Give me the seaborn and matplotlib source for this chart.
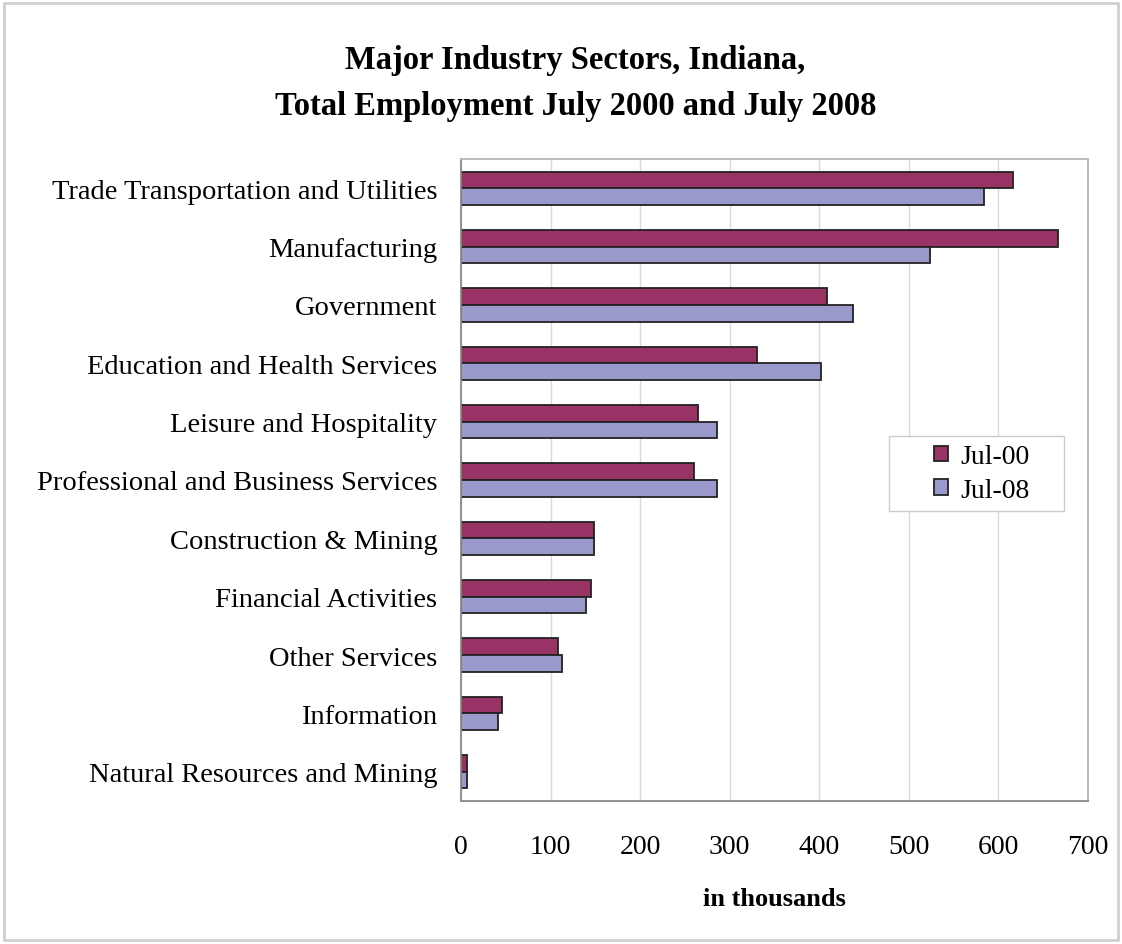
import numpy as np
import pandas as pd
import matplotlib
matplotlib.use("Agg")
import matplotlib.pyplot as plt
from matplotlib.patches import Rectangle
from matplotlib.ticker import FixedLocator
import seaborn as sns

categories = [
    "Trade Transportation and Utilities",
    "Manufacturing",
    "Government",
    "Education and Health Services",
    "Leisure and Hospitality",
    "Professional and Business Services",
    "Construction & Mining",
    "Financial Activities",
    "Other Services",
    "Information",
    "Natural Resources and Mining",
]
jul00 = [616, 666, 409, 330, 265, 260, 149, 145, 108, 46, 7]
jul08 = [584, 524, 438, 402, 286, 286, 149, 140, 113, 41, 7]
series_names = ["Jul-00", "Jul-08"]
x_ticks = [0, 100, 200, 300, 400, 500, 600, 700]

df = pd.DataFrame({
    "sector": categories * 2,
    "value": jul00 + jul08,
    "period": [series_names[0]] * len(categories) + [series_names[1]] * len(categories),
})

sns.set_theme(style="white")
plt.rcParams["font.family"] = ["Liberation Serif", "DejaVu Serif"]
plt.rcParams["text.color"] = "black"
plt.rcParams["xtick.color"] = "black"
plt.rcParams["ytick.color"] = "black"
plt.rcParams["axes.labelcolor"] = "black"

fig = plt.figure(figsize=(11.22, 9.45), dpi=100)
ax = fig.add_axes([461 / 1122, 1 - 802 / 945, (1088 - 461) / 1122, (802 - 160) / 945])

sns.barplot(
    data=df, y="sector", x="value", hue="period", order=categories,
    hue_order=series_names, palette=["#993366", "#9999CC"], orient="h",
    width=0.57, edgecolor="#222222", linewidth=1.3, saturation=1, ax=ax,
    legend=True,
)

ax.set_xlim(0, 700)
ax.set_ylim(len(categories) - 0.5, -0.5)
ax.set_xticks(x_ticks)
ax.set_xticklabels([str(t) for t in x_ticks], fontsize=20)
ax.tick_params(axis="x", which="major", direction="out", length=5, width=1,
               color="#888888", pad=19)
ax.tick_params(axis="y", which="major", length=0, pad=17, labelsize=20.5)
ax.yaxis.set_minor_locator(FixedLocator(np.arange(-0.5, len(categories), 1)))
ax.tick_params(axis="y", which="minor", direction="out", length=5, width=1, color="#888888")
ax.set_axisbelow(True)
ax.grid(axis="x", color="#d9d9d9", linewidth=1)
ax.grid(axis="y", visible=False)
ax.set_ylabel("")
ax.set_xlabel("in thousands", fontsize=19, fontweight="bold", labelpad=20)

for side in ["left", "bottom"]:
    ax.spines[side].set_color("#8a8a8a")
    ax.spines[side].set_linewidth(1.3)
for side in ["top", "right"]:
    ax.spines[side].set_color("#b5b5b5")
    ax.spines[side].set_linewidth(1.3)

# legend frame drawn separately (wide horizontal padding as in the reference)
lx0, lx1, ly0, ly1 = 889, 1064, 437, 512
frame = Rectangle(((lx0 - 461) / 627, 1 - (ly1 - 160) / 642), (lx1 - lx0) / 627,
                  (ly1 - ly0) / 642, transform=ax.transAxes, facecolor="white",
                  edgecolor="#cccccc", linewidth=1, zorder=4)
ax.add_patch(frame)
leg = ax.legend(
    loc="center", bbox_to_anchor=(((lx0 + lx1) / 2 - 461) / 627 + 0.008,
                                  1 - ((ly0 + ly1) / 2 - 160) / 642),
    fontsize=20, frameon=False, borderpad=0, handlelength=0.5,
    handleheight=0.5, handletextpad=0.45, labelspacing=0.3, borderaxespad=0,
)
leg.set_zorder(5)

fig.suptitle("Major Industry Sectors, Indiana,\nTotal Employment July 2000 and July 2008",
             x=0.513, y=0.952, fontsize=23.5, fontweight="bold", linespacing=1.6)

fig.patches.append(Rectangle((4 / 1122, 4 / 945), 1114 / 1122, 937 / 945,
                             transform=fig.transFigure, fill=False,
                             edgecolor="#d0d0d0", linewidth=2))

fig.savefig("out.png", dpi=100)
